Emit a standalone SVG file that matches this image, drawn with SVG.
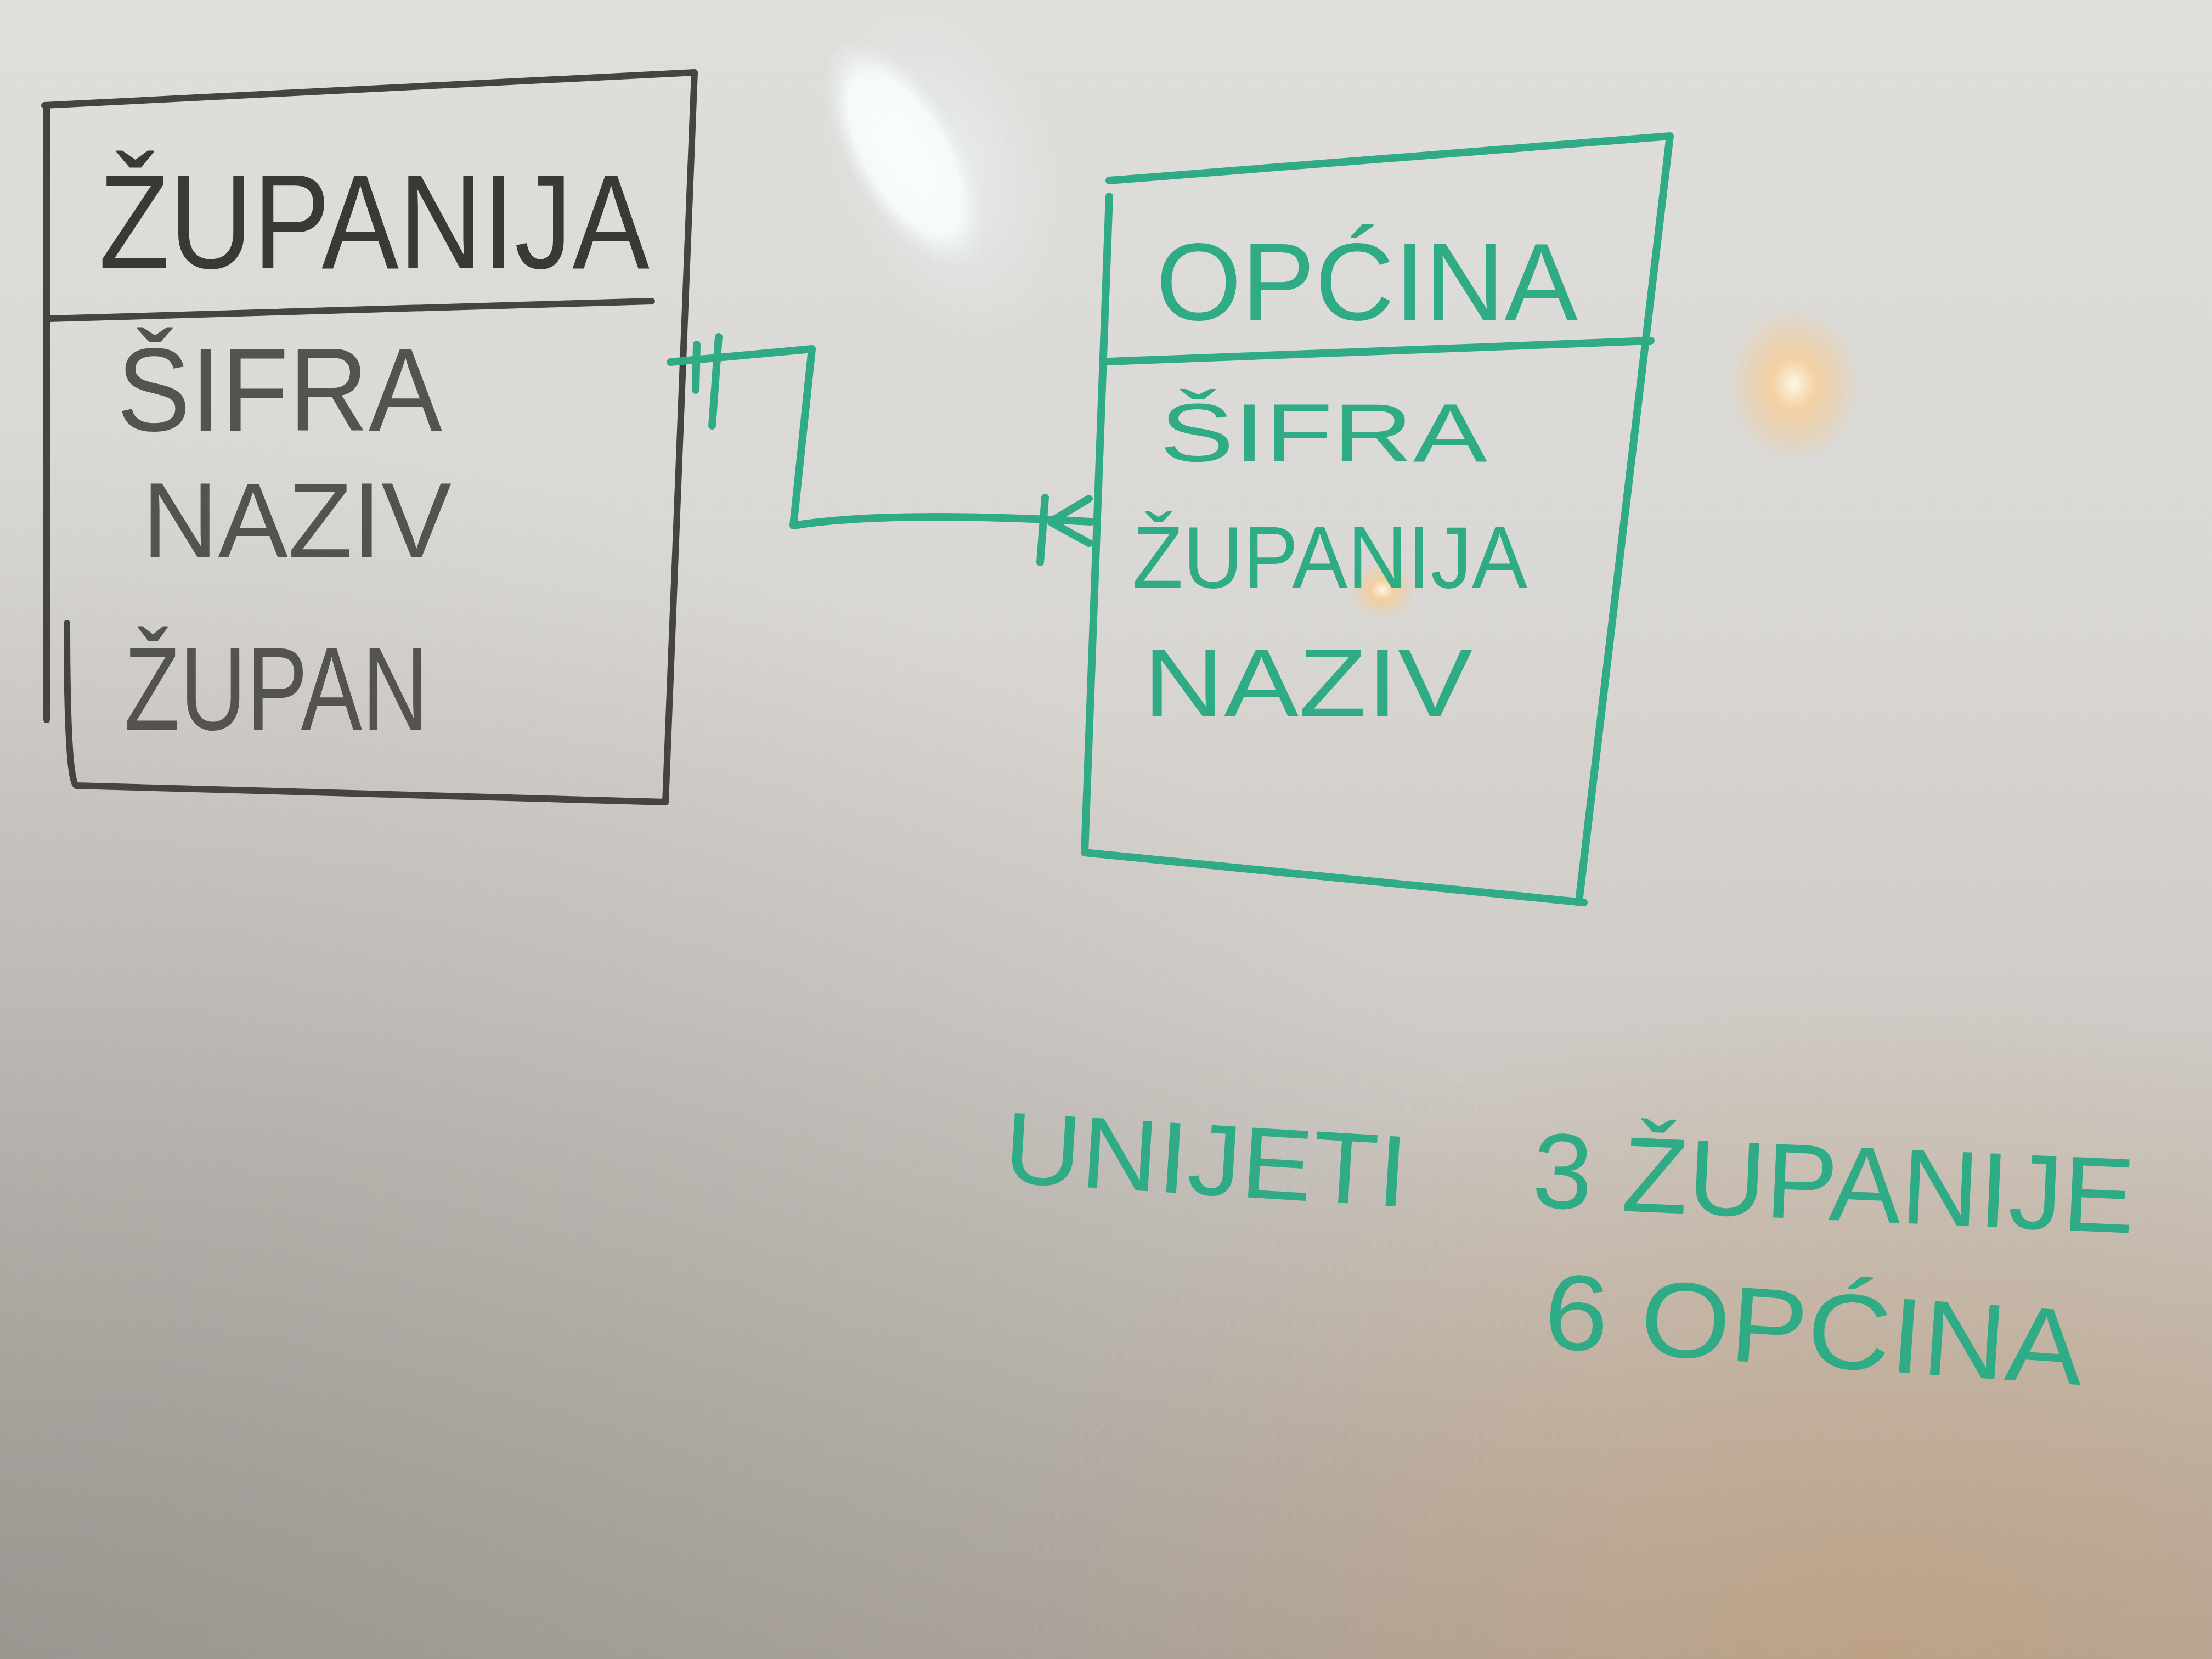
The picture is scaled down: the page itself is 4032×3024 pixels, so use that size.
<svg xmlns="http://www.w3.org/2000/svg" width="4032" height="3024" viewBox="0 0 4032 3024">
<defs>
<linearGradient id="bg" x1="0" y1="0" x2="0" y2="1">
<stop offset="0" stop-color="#dfdedb"/>
<stop offset="0.35" stop-color="#dad8d4"/>
<stop offset="0.6" stop-color="#d0ccc7"/>
<stop offset="0.8" stop-color="#c2bcb5"/>
<stop offset="1" stop-color="#b0a9a1"/>
</linearGradient>
<radialGradient id="dark" cx="0" cy="1" r="0.75">
<stop offset="0" stop-color="#8c8985" stop-opacity="0.6"/>
<stop offset="1" stop-color="#8c8985" stop-opacity="0"/>
</radialGradient>
<radialGradient id="warm" cx="0.85" cy="1" r="0.4">
<stop offset="0" stop-color="#c99a6c" stop-opacity="0.5"/>
<stop offset="1" stop-color="#c99a6c" stop-opacity="0"/>
</radialGradient>
<radialGradient id="glare" cx="0.5" cy="0.5" r="0.5">
<stop offset="0" stop-color="#fbfeff" stop-opacity="1"/>
<stop offset="0.7" stop-color="#f4f9fa" stop-opacity="1"/>
<stop offset="1" stop-color="#e8ecee" stop-opacity="0"/>
</radialGradient>
<radialGradient id="halo" cx="0.5" cy="0.5" r="0.5">
<stop offset="0" stop-color="#eef2f4" stop-opacity="0.8"/>
<stop offset="1" stop-color="#e8ecee" stop-opacity="0"/>
</radialGradient>
<radialGradient id="orange" cx="0.5" cy="0.5" r="0.5">
<stop offset="0" stop-color="#fff6e6" stop-opacity="1"/>
<stop offset="0.35" stop-color="#f6cf9a" stop-opacity="0.85"/>
<stop offset="1" stop-color="#efc58f" stop-opacity="0"/>
</radialGradient>
<style>
.blk{fill:none;stroke:#45443f;stroke-width:12;stroke-linecap:round;stroke-linejoin:round}
.grn{fill:none;stroke:#2fab86;stroke-width:14;stroke-linecap:round;stroke-linejoin:round}
.tb{font-family:"Liberation Sans","DejaVu Sans",sans-serif;fill:#3a3936}
.tbl{font-family:"Liberation Sans","DejaVu Sans",sans-serif;fill:#55534f}
.tg{font-family:"Liberation Sans","DejaVu Sans",sans-serif;fill:#2fab86}
</style>
</defs>
<rect width="4032" height="3024" fill="url(#bg)"/>
<rect width="4032" height="3024" fill="url(#dark)"/>
<rect width="4032" height="3024" fill="url(#warm)"/>
<ellipse cx="1720" cy="300" rx="210" ry="330" fill="url(#halo)" transform="rotate(-20 1720 300)"/>
<ellipse cx="1650" cy="280" rx="105" ry="235" fill="url(#glare)" transform="rotate(-30 1650 280)"/>
<ellipse cx="3270" cy="700" rx="120" ry="140" fill="url(#orange)"/>
<ellipse cx="2520" cy="1075" rx="60" ry="50" fill="url(#orange)"/>

<g id="node-zupanija">
<path class="blk" d="M81,192 L1266,132 L1213,1462 L139,1432 Q122,1420 122,1136"/>
<path class="blk" d="M85,192 L85,1312"/>
<path class="blk" d="M89,581 L1188,549"/>
<text class="tb" x="180" y="489" font-size="245" textLength="1004" lengthAdjust="spacingAndGlyphs">ŽUPANIJA</text>
<text class="tbl" x="213" y="785" font-size="215" textLength="593" lengthAdjust="spacingAndGlyphs">ŠIFRA</text>
<text class="tbl" x="259" y="1016" font-size="195" textLength="564" lengthAdjust="spacingAndGlyphs">NAZIV</text>
<text class="tbl" x="226" y="1330" font-size="215" textLength="555" lengthAdjust="spacingAndGlyphs">ŽUPAN</text>
</g>

<g id="node-opcina">
<path class="grn" d="M2022,329 L3044,248 L2879,1635 M2022,358 L1977,1554 L2887,1645"/>
<path class="grn" d="M2022,659 L3009,621"/>
<text class="tg" x="2107" y="583" font-size="200" textLength="769" lengthAdjust="spacingAndGlyphs">OPĆINA</text>
<text class="tg" x="2114" y="841" font-size="150" textLength="597" lengthAdjust="spacingAndGlyphs">ŠIFRA</text>
<text class="tg" x="2064" y="1071" font-size="160" textLength="720" lengthAdjust="spacingAndGlyphs">ŽUPANIJA</text>
<text class="tg" x="2084" y="1305" font-size="175" textLength="600" lengthAdjust="spacingAndGlyphs">NAZIV</text>
</g>

<g id="connectors">
<path class="grn" d="M1222,660 Q1350,648 1480,636 L1446,958 Q1620,930 1988,951"/>
<path class="grn" d="M1270,628 L1268,711 M1310,614 L1298,776"/>
<path class="grn" d="M1905,907 L1896,1025 M1916,950 L1985,909 M1916,952 L1985,990"/>
</g>

<g id="note">
<text class="tg" x="1827" y="2155" font-size="185" textLength="736" lengthAdjust="spacingAndGlyphs" transform="rotate(3.5 1827 2155)">UNIJETI</text>
<text class="tg" x="2791" y="2200" font-size="195" textLength="1098" lengthAdjust="spacingAndGlyphs" transform="rotate(2.5 2791 2200)">3 ŽUPANIJE</text>
<text class="tg" x="2811" y="2456" font-size="195" textLength="984" lengthAdjust="spacingAndGlyphs" transform="rotate(4 2811 2456)">6 OPĆINA</text>
</g>
</svg>
